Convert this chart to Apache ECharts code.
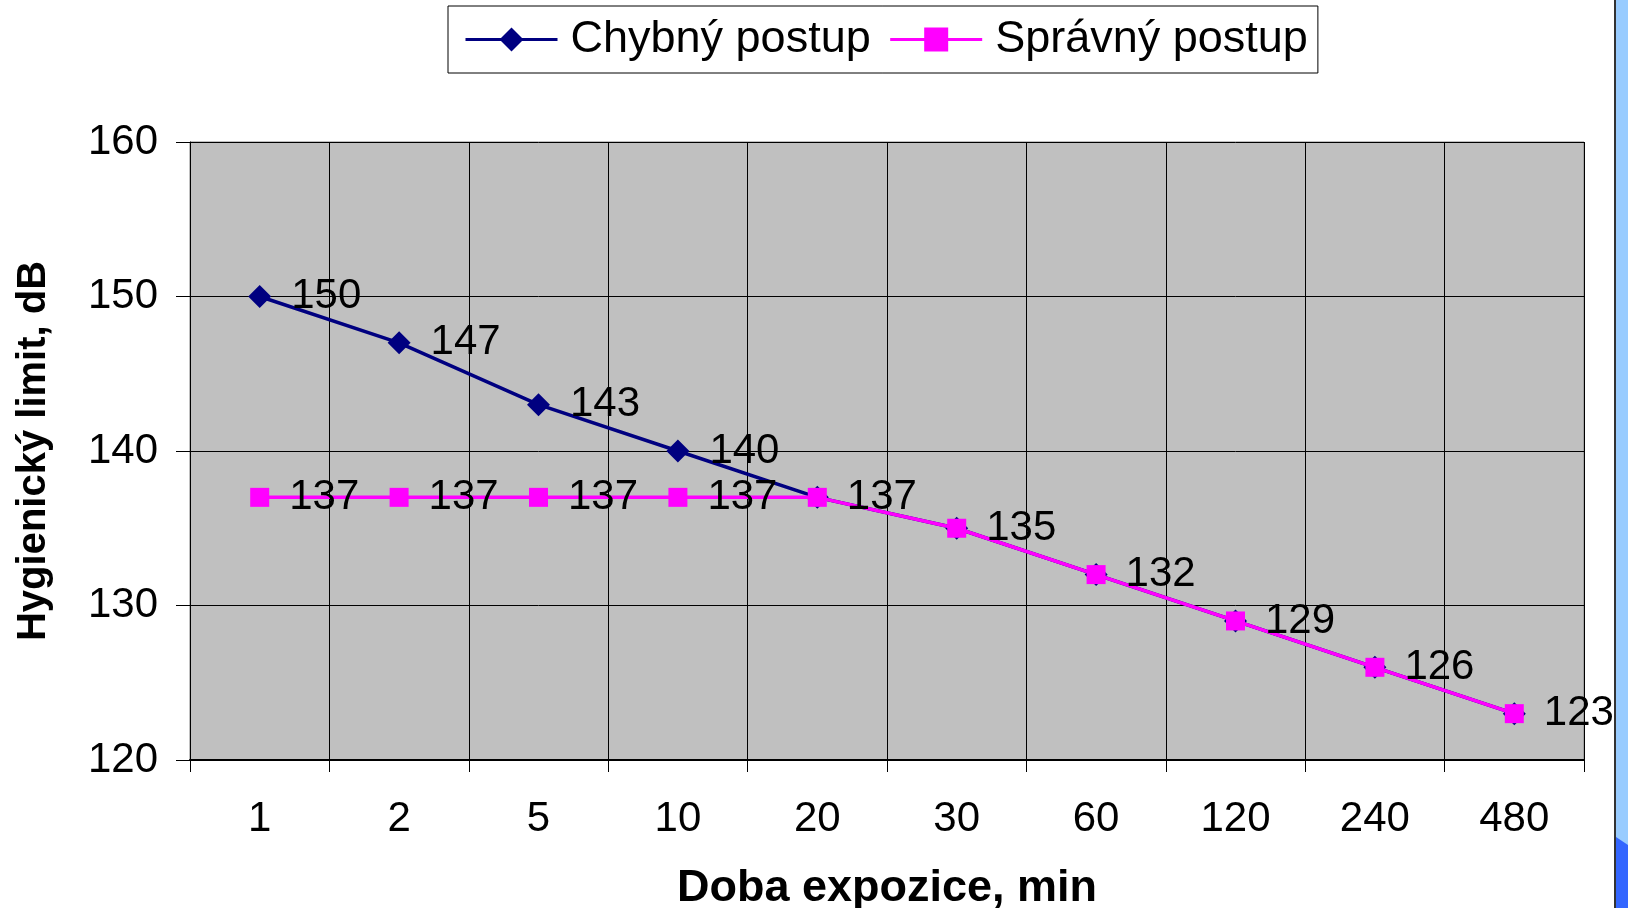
<!DOCTYPE html>
<html>
<head>
<meta charset="utf-8">
<script src="https://cdn.jsdelivr.net/npm/echarts@6/dist/echarts.min.js"></script>
<style>
html,body{margin:0;padding:0;background:#fff;}
#chart{width:1628px;height:908px;}
</style>
</head>
<body>
<div id="chart"></div>
<script>
const categories = ['1', '2', '5', '10', '20', '30', '60', '120', '240', '480'];
const chybnyValues = [150, 147, 143, 140, 137, 135, 132, 129, 126, 123];
const spravnyValues = [137, 137, 137, 137, 137, 135, 132, 129, 126, 123];
const seriesNames = ['Chybný postup', 'Správný postup'];
const xTitle = 'Doba expozice, min';
const yTitle = 'Hygienický limit, dB';

const FONT = '"Liberation Sans", Arial, sans-serif';
const chart = echarts.init(document.getElementById('chart'), null, {renderer: 'canvas'});

const labelCfg = {
  show: true,
  position: 'right',
  distance: 20,
  color: '#000',
  fontSize: 42,
  fontFamily: FONT
};

// Where both series coincide, only one label is drawn (identical text at the same spot).
const chybnyData = chybnyValues.map((v, i) => (
  v === spravnyValues[i] ? {value: v, label: {show: false}} : v
));

chart.setOption({
  animation: false,
  backgroundColor: '#fff',
  legend: {
    left: 448,
    top: 6,
    padding: [11, 10, 11, 16],
    itemWidth: 92,
    itemHeight: 30,
    itemGap: 18,
    backgroundColor: '#fff',
    borderColor: '#000',
    borderWidth: 1,
    lineStyle: {width: 3},
    textStyle: {fontSize: 45, fontFamily: FONT, color: '#000', padding: [0, 0, 0, 8]},
    data: seriesNames
  },
  grid: {
    left: 190, right: 44, top: 142, bottom: 148,
    outerBoundsMode: 'none',
    containLabel: false,
    show: true,
    backgroundColor: '#C0C0C0',
    borderColor: '#808080',
    borderWidth: 1
  },
  xAxis: {
    type: 'category',
    data: categories,
    boundaryGap: true,
    name: xTitle,
    nameLocation: 'middle',
    nameGap: 106,
    nameTextStyle: {fontSize: 45, fontWeight: 'bold', fontFamily: FONT, color: '#000'},
    axisLine: {show: true, lineStyle: {color: '#000', width: 2}},
    axisTick: {show: true, length: 12, lineStyle: {color: '#000'}},
    axisLabel: {fontSize: 42, fontFamily: FONT, color: '#000', margin: 38},
    splitLine: {show: true, lineStyle: {color: '#000', width: 1}}
  },
  yAxis: {
    type: 'value',
    min: 120, max: 160, interval: 10,
    name: yTitle,
    nameLocation: 'middle',
    nameGap: 136,
    nameTextStyle: {fontSize: 40, fontWeight: 'bold', fontFamily: FONT, color: '#000'},
    axisLine: {show: true, lineStyle: {color: '#000', width: 1}},
    axisTick: {show: true, length: 14, lineStyle: {color: '#000'}},
    axisLabel: {fontSize: 42, fontFamily: FONT, color: '#000', margin: 32},
    splitLine: {show: true, lineStyle: {color: '#000', width: 1}}
  },
  series: [
    {
      name: seriesNames[0],
      type: 'line',
      data: chybnyData,
      symbol: 'diamond',
      symbolSize: 23,
      lineStyle: {color: '#000080', width: 3.5},
      itemStyle: {color: '#000080'},
      label: labelCfg,
      z: 2
    },
    {
      name: seriesNames[1],
      type: 'line',
      data: spravnyValues,
      symbol: 'rect',
      symbolSize: 19,
      lineStyle: {color: '#FF00FF', width: 3.5},
      itemStyle: {color: '#FF00FF'},
      label: labelCfg,
      z: 3
    }
  ],
  graphic: [
    {type: 'rect', shape: {x: 1615, y: 0, width: 13, height: 908}, style: {fill: '#99CCFF'}, silent: true},
    {type: 'polygon', shape: {points: [[1616, 837], [1628, 845], [1628, 908], [1616, 908]]}, style: {fill: '#3366FF'}, silent: true},
    {type: 'line', shape: {x1: 1615, y1: 0, x2: 1615, y2: 908}, style: {stroke: '#333', lineWidth: 2}, silent: true}
  ]
});
</script>
</body>
</html>
